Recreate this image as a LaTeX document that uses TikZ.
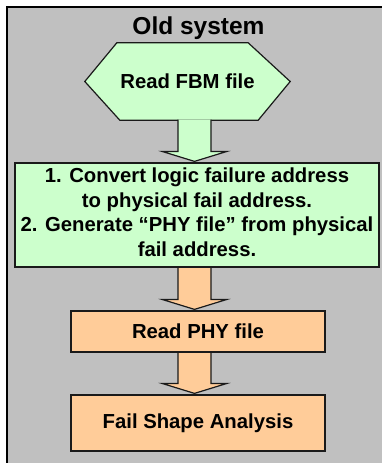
\documentclass[tikz,border=0pt]{standalone}
\usepackage{fontspec}
\setmainfont{Liberation Sans}
\usetikzlibrary{calc}

\definecolor{panelgray}{HTML}{C0C0C0}
\definecolor{boxgreen}{HTML}{CCFFCC}
\definecolor{boxorange}{HTML}{FFCC99}
\definecolor{boxline}{HTML}{1A1A1A}

\pgfdeclarelayer{panel}
\pgfsetlayers{panel,main}

\tikzset{
  labeltext/.style={font=\bfseries\fontsize{20.3}{24.5}\selectfont, align=center, inner sep=0pt},
  stepbox/.style={labeltext, draw=boxline, line width=1.2pt},
  linkline/.style={draw=boxline, line width=1.2pt, line join=miter},
}

% block arrow from the bottom of node #1 to the top of node #2, filled with #3;
% #4 shifts the start of the shaft
\newcommand\flowlink[4]{%
  \filldraw[linkline, fill=#3]
    ($(#1.south -| axis)+(-16.5,#4)$)
    -- ($(#2.north -| axis)+(-16.5,-11)$)
    -- ($(#2.north -| axis)+(-32.5,-11)$)
    -- ($(#2.north -| axis)+(0,-1)$)
    -- ($(#2.north -| axis)+(32.5,-11)$)
    -- ($(#2.north -| axis)+(16.5,-11)$)
    -- ($(#1.south -| axis)+(16.5,#4)$);
}

\begin{document}
\begin{tikzpicture}[x=1pt, y=-1pt]
  \useasboundingbox (0,0) rectangle (382,463);
  \coordinate (axis) at (194.5,0);

  % title
  \node[font=\bfseries\fontsize{24.5}{28}\selectfont, inner sep=0pt, anchor=base]
    (title) at (198.5,34.5) {Old system};

  % steps
  \node[labeltext, minimum width=205pt, minimum height=77pt]
    (fbm) at (187.5,81.5) {Read FBM file};
  \node[stepbox, fill=boxgreen, minimum width=364pt, minimum height=104pt]
    (conv) at (197,215) {1. Convert logic failure address\\
      to physical fail address.\\
      2. Generate “PHY file” from physical\\
      fail address.\rule[-6pt]{0pt}{0pt}};
  \node[stepbox, fill=boxorange, minimum width=254pt, minimum height=41pt]
    (phy) at (198,331.5) {Read PHY file};
  \node[stepbox, fill=boxorange, minimum width=254pt, minimum height=56pt]
    (shape) at (198,423) {Fail Shape Analysis};

  \begin{pgfonlayer}{panel}
    % grey panel with its shadowed top and left edges
    \fill[panelgray] (7,7) rectangle (382,463);
    \draw[line width=2pt] (7,463) -- (7,7) -- (382,7);
    % hexagon behind the first step
    \draw[linkline, fill=boxgreen]
      (fbm.west) -- ($(fbm.north west)+(32,0)$) -- ($(fbm.north east)+(-42,0)$)
      -- (fbm.east) -- ($(fbm.south east)+(-32,0)$) -- ($(fbm.south west)+(35,0)$)
      -- cycle;
  \end{pgfonlayer}

  % connectors
  \flowlink{fbm}{conv}{boxgreen}{-0.6}
  \flowlink{conv}{phy}{boxorange}{0.6}
  \flowlink{phy}{shape}{boxorange}{0.6}
\end{tikzpicture}
\end{document}
